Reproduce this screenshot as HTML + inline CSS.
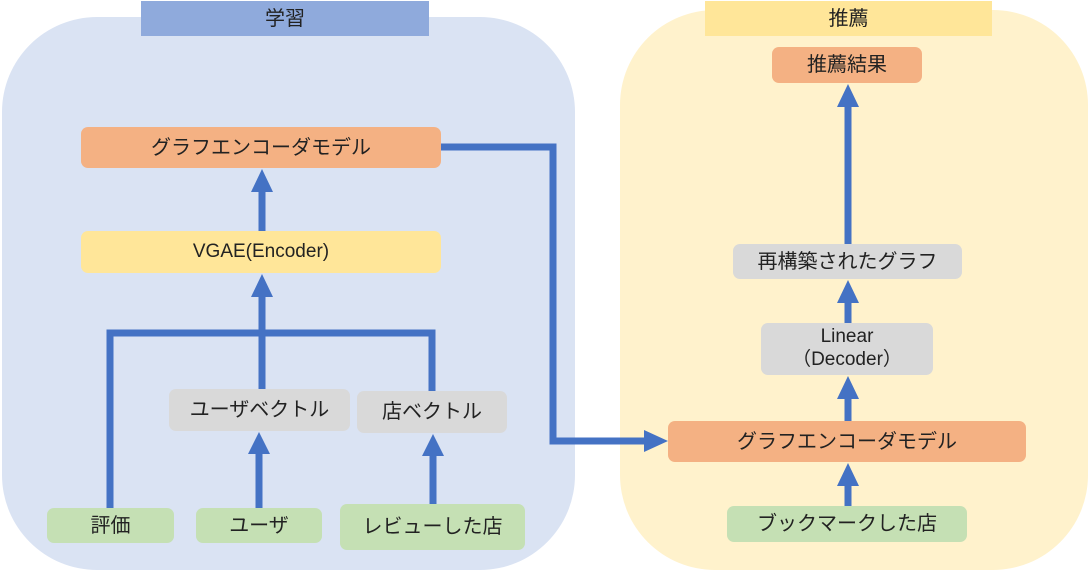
<!DOCTYPE html>
<html><head><meta charset="utf-8"><style>
body{margin:0;width:1091px;height:572px;background:#fff;position:relative;overflow:hidden;font-family:"Liberation Sans","Noto Sans CJK JP",sans-serif;}
.b{position:absolute;display:flex;align-items:center;justify-content:center;border-radius:7px;font-size:20px;color:#222;text-align:center;line-height:1.2;}
svg{position:absolute;left:0;top:0}
</style></head><body>
<div style="position:absolute;left:2px;top:17px;width:573px;height:553px;background:#dae3f3;border-radius:95px"></div>
<div style="position:absolute;left:620px;top:10px;width:468px;height:560px;background:#fff2cc;border-radius:95px"></div>
<div class="b" style="left:141px;top:1px;width:288px;height:35px;background:#8faadc;border-radius:0">学習</div>
<div class="b" style="left:705px;top:1px;width:287px;height:35px;background:#ffe699;border-radius:0">推薦</div>
<svg width="1091" height="572" viewBox="0 0 1091 572">
<g fill="none" stroke="#4472c4" stroke-width="7">
<polyline points="441,147 553,147 553,441 645,441"/>
<line x1="262" y1="231" x2="262" y2="190"/>
<line x1="262" y1="389" x2="262" y2="295"/>
<polyline points="110,508 110,333 432,333 432,391"/>
<line x1="259" y1="508" x2="259" y2="452"/>
<line x1="433" y1="504" x2="433" y2="454"/>
<line x1="848" y1="506" x2="848" y2="484"/>
<line x1="848" y1="421" x2="848" y2="397"/>
<line x1="848" y1="323" x2="848" y2="301"/>
<line x1="848" y1="244" x2="848" y2="105"/>
</g>
<g fill="#4472c4">
<polygon points="251,192 273,192 262,169"/>
<polygon points="251,297 273,297 262,274"/>
<polygon points="248,454 270,454 259,432"/>
<polygon points="422,456 444,456 433,434"/>
<polygon points="837,486 859,486 848,463"/>
<polygon points="837,399 859,399 848,376"/>
<polygon points="837,303 859,303 848,280"/>
<polygon points="837,107 859,107 848,84"/>
<polygon points="644,430 644,452 668,441"/>
</g>
</svg>
<div class="b" style="left:81px;top:127px;width:360px;height:41px;background:#f4b183">グラフエンコーダモデル</div>
<div class="b" style="left:81px;top:231px;width:360px;height:42px;background:#ffe699;font-size:19px">VGAE(Encoder)</div>
<div class="b" style="left:169px;top:389px;width:181px;height:42px;background:#d9d9d9">ユーザベクトル</div>
<div class="b" style="left:357px;top:391px;width:150px;height:42px;background:#d9d9d9">店ベクトル</div>
<div class="b" style="left:47px;top:508px;width:127px;height:35px;background:#c5e0b4">評価</div>
<div class="b" style="left:196px;top:508px;width:126px;height:35px;background:#c5e0b4">ユーザ</div>
<div class="b" style="left:340px;top:504px;width:185px;height:46px;background:#c5e0b4">レビューした店</div>
<div class="b" style="left:772px;top:47px;width:150px;height:36px;background:#f4b183">推薦結果</div>
<div class="b" style="left:733px;top:244px;width:229px;height:35px;background:#d9d9d9">再構築されたグラフ</div>
<div class="b" style="left:761px;top:323px;width:172px;height:52px;background:#d9d9d9;font-size:19px">Linear<br>（Decoder）</div>
<div class="b" style="left:668px;top:421px;width:358px;height:41px;background:#f4b183">グラフエンコーダモデル</div>
<div class="b" style="left:727px;top:506px;width:240px;height:36px;background:#c5e0b4">ブックマークした店</div>
</body></html>
